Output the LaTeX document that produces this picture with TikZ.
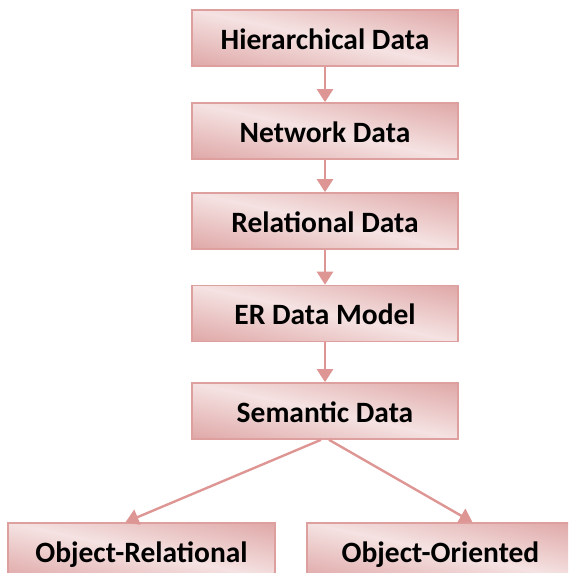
\documentclass[tikz,border=0pt]{standalone}
\usepackage{fontspec}
\setmainfont{Carlito}
\usetikzlibrary{arrows.meta}
\definecolor{boxdark}{RGB}{214,144,143}
\definecolor{boxlight}{RGB}{245,226,226}
\definecolor{boxedge}{RGB}{222,160,159}
\definecolor{linkcol}{RGB}{222,150,148}
\pgfdeclareverticalshading{boxshade}{100bp}{color(0bp)=(boxdark); color(8bp)=(boxdark); color(50bp)=(boxlight); color(92bp)=(boxdark); color(100bp)=(boxdark)}
\tikzset{
  databox/.style={draw=boxedge, line width=1.6pt, minimum width=266pt, minimum height=56pt,
    inner sep=0pt, shade, shading=boxshade, shading angle=-12,
    font=\fontsize{29.5}{32}\selectfont\bfseries, text height=22pt, text depth=0pt},
  link/.style={draw=linkcol, line width=2.4pt, -{Triangle[width=16pt,length=13pt]}}
}
\begin{document}
\begin{tikzpicture}[x=1pt,y=-1pt]
\useasboundingbox (0,0) rectangle (568,573);
\begin{scope}
\clip (0,0) rectangle (568,573);
\node[databox] (hd) at (325,38) {Hierarchical Data};
\node[databox] (nd) at (325,131) {Network Data};
\node[databox] (rd) at (325,221) {Relational Data};
\node[databox] (er) at (325,313.5) {ER Data Model};
\node[databox] (sd) at (325,411) {Semantic Data};
\node[databox, minimum width=267pt] (or) at (141.5,551) {Object-Relational};
\node[databox, minimum width=267pt] (oo) at (440.5,551) {Object-Oriented};
\end{scope}
\draw[link] (hd.south) -- (nd.north);
\draw[link] (nd.south) -- (rd.north);
\draw[link] (rd.south) -- (er.north);
\draw[link] (er.south) -- (sd.north);
\draw[link] ([xshift=-4pt]sd.south) -- ([xshift=-16pt]or.north);
\draw[link] ([xshift=4pt]sd.south) -- ([xshift=32pt]oo.north);
\end{tikzpicture}
\end{document}
